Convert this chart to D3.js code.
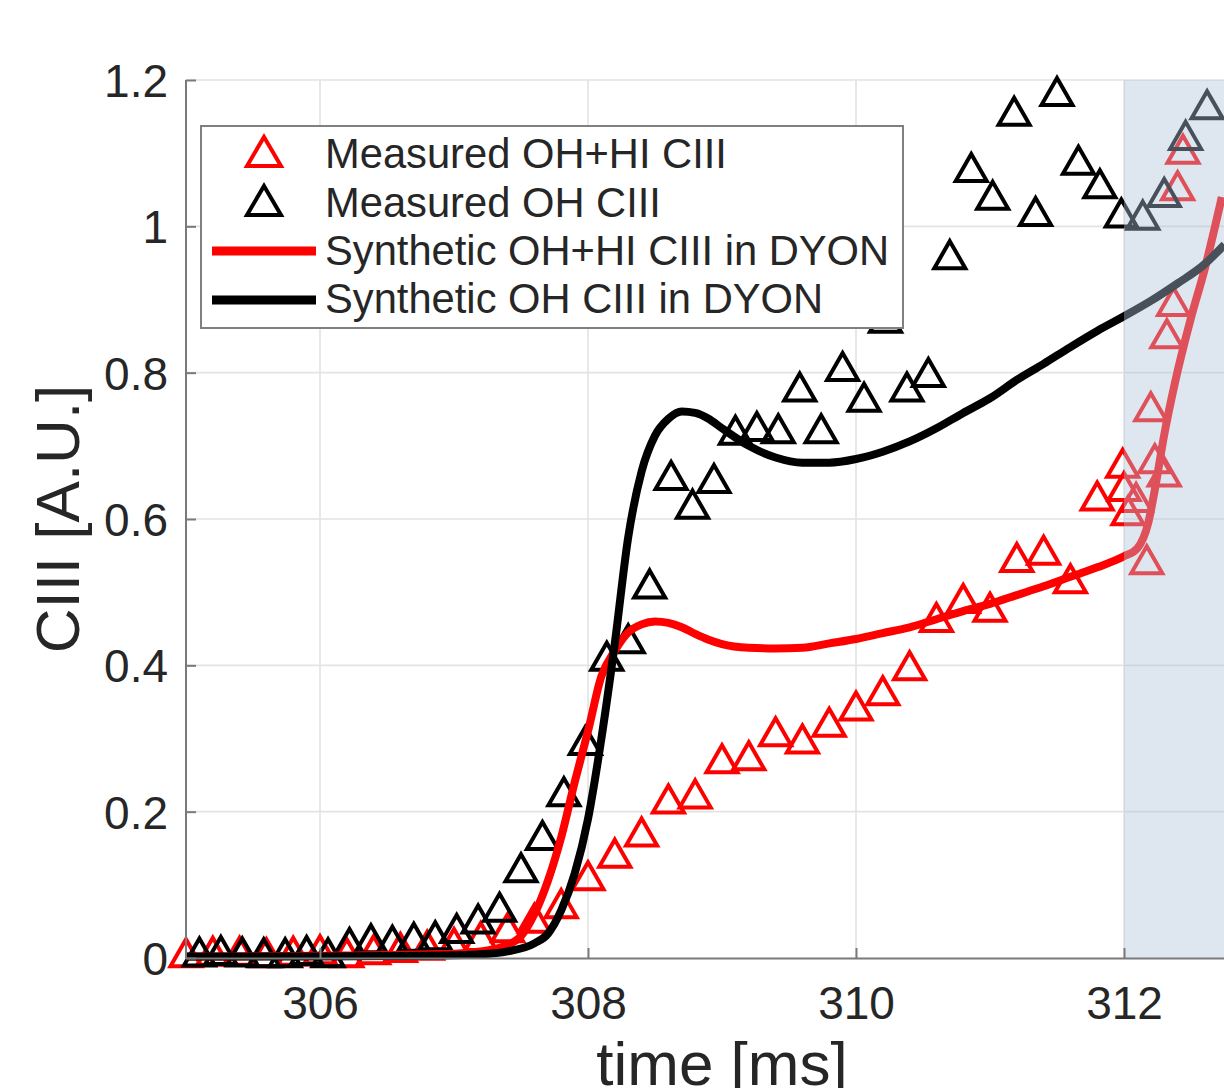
<!DOCTYPE html>
<html>
<head>
<meta charset="utf-8">
<script src="https://cdn.jsdelivr.net/npm/d3@7"></script>
<style>
  html, body { margin: 0; padding: 0; background: #fff; }
  svg { display: block; font-family: "Liberation Sans", Arial, Helvetica, sans-serif; }
</style>
</head>
<body>
<div id="chart"></div>
<script>
// ---------- data ----------
const xTicks = [306, 308, 310, 312];
const xTickLabels = ["306", "308", "310", "312"];
const yTicks = [0, 0.2, 0.4, 0.6, 0.8, 1, 1.2];
const yTickLabels = ["0", "0.2", "0.4", "0.6", "0.8", "1", "1.2"];

// Measured OH+HI CIII (red triangles)
const measHITime = [305.0, 305.2, 305.4, 305.6, 305.8, 306.0, 306.2, 306.4, 306.6, 306.8,
  307.0, 307.2, 307.4, 307.6, 307.8, 308.0, 308.2, 308.4, 308.6, 308.8,
  309.0, 309.2, 309.4, 309.6, 309.8, 310.0, 310.2, 310.4, 310.6, 310.8,
  311.0, 311.2, 311.4, 311.6, 311.8,
  311.99, 312.00, 312.03, 312.09, 312.17, 312.20, 312.23, 312.30, 312.32, 312.37, 312.40, 312.44];
const measHIValue = [0.008, 0.010, 0.010, 0.008, 0.010, 0.012, 0.008, 0.012, 0.015, 0.018,
  0.022, 0.030, 0.042, 0.055, 0.075, 0.113, 0.144, 0.173, 0.218, 0.225,
  0.273, 0.277, 0.310, 0.300, 0.323, 0.345, 0.366, 0.400, 0.466, 0.492,
  0.480, 0.548, 0.558, 0.519, 0.632,
  0.677, 0.645, 0.612, 0.630, 0.545, 0.754, 0.683, 0.665, 0.854, 0.898, 1.056, 1.106];

// Measured OH CIII (black triangles)
const measOHTime = [305.10, 305.26, 305.42, 305.58, 305.74, 305.90, 306.06, 306.22, 306.38, 306.54,
  306.70, 306.86, 307.02, 307.18, 307.34, 307.50, 307.66, 307.82, 307.98, 308.14,
  308.30, 308.46, 308.62, 308.78, 308.94, 309.10, 309.26, 309.42, 309.58, 309.74,
  309.90, 310.06, 310.22, 310.38, 310.54, 310.70, 310.86, 311.02, 311.18, 311.34,
  311.50, 311.66, 311.82, 311.98, 312.14, 312.30, 312.46, 312.62];
const measOHValue = [0.009, 0.011, 0.009, 0.008, 0.008, 0.011, 0.008, 0.022, 0.027, 0.025,
  0.029, 0.031, 0.041, 0.054, 0.070, 0.124, 0.168, 0.228, 0.298, 0.413,
  0.437, 0.512, 0.660, 0.621, 0.656, 0.722, 0.727, 0.724, 0.781, 0.724,
  0.809, 0.767, 0.875, 0.781, 0.801, 0.962, 1.081, 1.043, 1.158, 1.021,
  1.185, 1.091, 1.059, 1.019, 1.016, 1.047, 1.125, 1.167];

// Synthetic OH+HI CIII in DYON (red line)
const synHITime = [305.0, 306.0, 306.8, 307.1, 307.3, 307.4, 307.5, 307.6, 307.7, 307.8,
  307.9, 308.0, 308.1, 308.2, 308.3, 308.4, 308.5, 308.6, 308.7, 308.8,
  308.9, 309.0, 309.2, 309.4, 309.6, 309.8, 310.0, 310.2, 310.4, 310.6,
  310.8, 311.0, 311.2, 311.4, 311.6, 311.8, 312.0, 312.1, 312.18, 312.23,
  312.3, 312.38, 312.5, 312.6, 312.73];
const synHIValue = [0.002, 0.003, 0.005, 0.007, 0.012, 0.018, 0.030, 0.060, 0.105, 0.165,
  0.240, 0.310, 0.385, 0.420, 0.445, 0.456, 0.460, 0.458, 0.452, 0.443,
  0.435, 0.429, 0.424, 0.423, 0.424, 0.430, 0.436, 0.444, 0.452, 0.463,
  0.474, 0.484, 0.496, 0.508, 0.521, 0.534, 0.549, 0.560, 0.594, 0.640,
  0.715, 0.786, 0.875, 0.940, 1.040];

// Synthetic OH CIII in DYON (black line)
const synOHTime = [305.0, 306.0, 306.8, 307.2, 307.4, 307.6, 307.7, 307.8, 307.9, 308.0,
  308.1, 308.2, 308.3, 308.4, 308.5, 308.6, 308.7, 308.8, 308.9, 309.0,
  309.2, 309.4, 309.6, 309.8, 310.0, 310.2, 310.4, 310.6, 310.8, 311.0,
  311.2, 311.4, 311.6, 311.8, 312.0, 312.2, 312.4, 312.6, 312.75];
const synOHValue = [0.002, 0.002, 0.003, 0.005, 0.009, 0.020, 0.033, 0.065, 0.115, 0.190,
  0.300, 0.430, 0.575, 0.665, 0.714, 0.737, 0.747, 0.745, 0.737, 0.724,
  0.700, 0.684, 0.677, 0.677, 0.682, 0.692, 0.706, 0.724, 0.745, 0.765,
  0.790, 0.812, 0.835, 0.857, 0.877, 0.898, 0.922, 0.948, 0.975];

const shadeRange = [312, 313];
const legendLabels = ["Measured OH+HI CIII", "Measured OH CIII",
  "Synthetic OH+HI CIII in DYON", "Synthetic OH CIII in DYON"];
const xLabel = "time [ms]";
const yLabel = "CIII [A.U.]";

// ---------- drawing ----------
const W = 1224, H = 1088;
const svg = d3.select("#chart").append("svg").attr("width", W).attr("height", H);

const x = d3.scaleLinear().domain([305, 313]).range([186, 1258]);
const y = d3.scaleLinear().domain([0, 1.2]).range([958, 80]);

const RED = "#ff0000", BLACK = "#000000", TXT = "#262626", AX = "#7a7a7a";

// grid
const grid = svg.append("g");
grid.selectAll("line.gx").data(xTicks).join("line")
  .attr("x1", d => x(d)).attr("x2", d => x(d))
  .attr("y1", y(0)).attr("y2", y(1.2))
  .attr("stroke", "#e3e3e3").attr("stroke-width", 1.6);
grid.selectAll("line.gy").data(yTicks.filter(d => d > 0)).join("line")
  .attr("x1", x(305)).attr("x2", x(313))
  .attr("y1", d => y(d)).attr("y2", d => y(d))
  .attr("stroke", "#e3e3e3").attr("stroke-width", 1.6);

// triangle marker path
const tri = "M0,-13 L15.5,14 L-15.5,14 Z";
const triLegend = "M0,-14 L17,15 L-17,15 Z";

function drawMarkers(times, vals, color) {
  svg.append("g").selectAll("path").data(times.map((t, i) => [t, vals[i]])).join("path")
    .attr("d", tri)
    .attr("transform", d => `translate(${x(d[0])},${y(d[1])})`)
    .attr("fill", "none").attr("stroke", color)
    .attr("stroke-width", 4).attr("stroke-linejoin", "miter");
}

function drawLine(times, vals, color) {
  const line = d3.line().x(d => x(d[0])).y(d => y(d[1])).curve(d3.curveMonotoneX);
  svg.append("path").datum(times.map((t, i) => [t, vals[i]]))
    .attr("d", line).attr("fill", "none").attr("stroke", color)
    .attr("stroke-width", 8).attr("stroke-linejoin", "round");
}

drawMarkers(measHITime, measHIValue, RED);
drawMarkers(measOHTime, measOHValue, BLACK);
drawLine(synHITime, synHIValue, RED);
drawLine(synOHTime, synOHValue, BLACK);

// shaded region (semi-transparent overlay)
svg.append("rect")
  .attr("x", x(shadeRange[0])).attr("width", x(shadeRange[1]) - x(shadeRange[0]))
  .attr("y", y(1.2)).attr("height", y(0) - y(1.2))
  .attr("fill", "rgb(175,195,219)").attr("fill-opacity", 0.41);

// axes
const yAxis = d3.axisLeft(y).tickValues(yTicks)
  .tickFormat((d, i) => yTickLabels[i]).tickSizeInner(-10).tickSizeOuter(0).tickPadding(18);
const gy = svg.append("g").attr("transform", `translate(${x(305)},0)`).call(yAxis);
const xAxis = d3.axisBottom(x).tickValues(xTicks)
  .tickFormat((d, i) => xTickLabels[i]).tickSizeInner(-10).tickSizeOuter(0).tickPadding(28);
const gx = svg.append("g").attr("transform", `translate(0,${y(0)})`).call(xAxis);

[gx, gy].forEach(g => {
  g.select(".domain").attr("stroke", AX).attr("stroke-width", 2);
  g.selectAll(".tick line").attr("stroke", AX).attr("stroke-width", 2);
  g.selectAll(".tick text").attr("fill", TXT).style("font-size", "46px")
    .style("font-family", '"Liberation Sans", Arial, sans-serif');
});
gy.selectAll(".tick text").attr("dy", "0.36em");
gy.select(".domain").attr("d", `M0,${y(0)}V${y(1.2)}`);

// axis labels
svg.append("text").text(xLabel)
  .attr("x", (x(305) + x(313)) / 2).attr("y", 1085)
  .attr("text-anchor", "middle").attr("fill", TXT).style("font-size", "62px");
svg.append("text").text(yLabel)
  .attr("transform", `translate(79,${(y(0) + y(1.2)) / 2}) rotate(-90)`)
  .attr("text-anchor", "middle").attr("fill", TXT).style("font-size", "62px");

// legend
const lg = svg.append("g");
lg.append("rect").attr("x", 201).attr("y", 126).attr("width", 702).attr("height", 202)
  .attr("fill", "#fff").attr("stroke", "#808080").attr("stroke-width", 2);
const rowY = [151, 200, 251, 300];
const rowBase = [168, 217, 265, 313];
const legendColors = [RED, BLACK, RED, BLACK];
legendLabels.forEach((lab, i) => {
  if (i < 2) {
    lg.append("path").attr("d", triLegend)
      .attr("transform", `translate(264,${rowY[i]})`)
      .attr("fill", "none").attr("stroke", legendColors[i]).attr("stroke-width", 4);
  } else {
    lg.append("line").attr("x1", 212).attr("x2", 316)
      .attr("y1", rowY[i]).attr("y2", rowY[i])
      .attr("stroke", legendColors[i]).attr("stroke-width", 9);
  }
  lg.append("text").text(lab).attr("x", 325).attr("y", rowBase[i])
    .attr("fill", TXT).style("font-size", "41.7px");
});
</script>
</body>
</html>
